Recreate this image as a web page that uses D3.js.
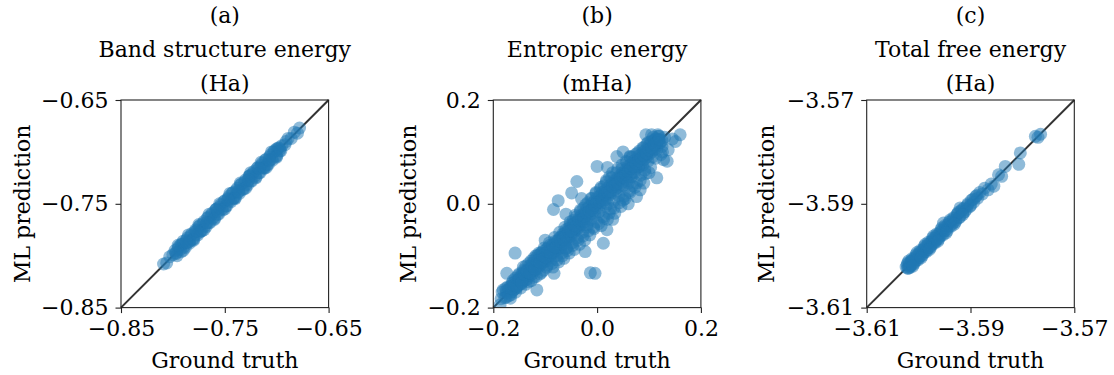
<!DOCTYPE html>
<html>
<head>
<meta charset="utf-8">
<script src="https://cdn.jsdelivr.net/npm/d3@7"></script>
<style>
  html, body { margin: 0; padding: 0; background: #fff; }
  svg { display: block; }
  text { font-family: "DejaVu Serif", serif; fill: #000; }
</style>
</head>
<body>
<svg id="chart" width="1114" height="375"></svg>
<script>
// ---- Panel (a): band structure energy (Ha) ----
const bandTruth = [
  -0.809,-0.806,-0.803,-0.800,-0.797,-0.795,-0.793,-0.791,-0.789,-0.787,
  -0.785,-0.783,-0.781,-0.779,-0.777,-0.775,-0.773,-0.771,-0.769,-0.767,
  -0.765,-0.763,-0.761,-0.759,-0.757,-0.755,-0.753,-0.751,-0.749,-0.747,
  -0.745,-0.743,-0.741,-0.739,-0.737,-0.735,-0.733,-0.731,-0.729,-0.727,
  -0.725,-0.723,-0.721,-0.719,-0.717,-0.715,-0.713,-0.711,-0.709,-0.707,
  -0.705,-0.703,-0.701,-0.699,-0.697,-0.695,-0.692,-0.689,-0.686,-0.683,
  -0.680,-0.678,-0.792,-0.774,-0.758,-0.742,-0.726,-0.712,-0.700,-0.784,
  -0.798,-0.796,-0.794,-0.792,-0.790,-0.788,-0.786,-0.784,-0.782,-0.780,
  -0.778,-0.776,-0.774,-0.772,-0.770,-0.768,-0.766,-0.764,-0.762,-0.760,
  -0.758,-0.756,-0.754,-0.752,-0.750,-0.748,-0.746,-0.744,-0.742,-0.740,
  -0.738,-0.736,-0.734,-0.732,-0.730,-0.728,-0.726,-0.724,-0.722,-0.720,
  -0.718,-0.716,-0.714,-0.712,-0.710,-0.708,-0.706,-0.704,-0.702,-0.700,
  -0.698,-0.696,
  -0.795,-0.790,-0.785,-0.780,-0.775,-0.770,-0.765,-0.760,-0.755,-0.750,
  -0.745,-0.740,-0.735,-0.730,-0.725,-0.720,-0.715,-0.710,-0.705,-0.700,
  -0.797,-0.787,-0.777,-0.767,-0.757,-0.747,-0.737,-0.727,-0.717,-0.707,
  -0.697,-0.691
];
const bandPred = [
  -0.808,-0.807,-0.801,-0.799,-0.798,-0.793,-0.794,-0.789,-0.791,-0.785,
  -0.787,-0.781,-0.784,-0.777,-0.779,-0.772,-0.776,-0.769,-0.771,-0.764,
  -0.768,-0.761,-0.763,-0.756,-0.760,-0.753,-0.755,-0.748,-0.752,-0.745,
  -0.747,-0.740,-0.744,-0.737,-0.739,-0.732,-0.736,-0.729,-0.731,-0.724,
  -0.728,-0.721,-0.723,-0.716,-0.720,-0.713,-0.715,-0.708,-0.712,-0.705,
  -0.707,-0.700,-0.704,-0.697,-0.699,-0.694,-0.693,-0.687,-0.687,-0.681,
  -0.682,-0.677,-0.789,-0.777,-0.755,-0.745,-0.723,-0.715,-0.697,-0.786,
  -0.795,-0.800,-0.791,-0.796,-0.786,-0.792,-0.783,-0.788,-0.779,-0.784,
  -0.775,-0.780,-0.771,-0.776,-0.767,-0.772,-0.763,-0.768,-0.759,-0.764,
  -0.755,-0.760,-0.751,-0.756,-0.747,-0.752,-0.743,-0.748,-0.739,-0.744,
  -0.735,-0.740,-0.731,-0.736,-0.727,-0.732,-0.723,-0.728,-0.719,-0.724,
  -0.715,-0.720,-0.711,-0.716,-0.707,-0.712,-0.703,-0.708,-0.699,-0.704,
  -0.696,-0.699,
  -0.790,-0.795,-0.780,-0.785,-0.770,-0.775,-0.760,-0.765,-0.750,-0.755,
  -0.740,-0.745,-0.730,-0.735,-0.720,-0.725,-0.710,-0.715,-0.700,-0.705,
  -0.797,-0.787,-0.776,-0.768,-0.757,-0.746,-0.738,-0.727,-0.716,-0.708,
  -0.697,-0.690
];

// ---- Panel (b): entropic energy (mHa) ----
const entropicTruth = [
  -0.185,-0.183,-0.178,-0.176,-0.174,-0.168,-0.166,-0.163,-0.161,-0.157,
  -0.155,-0.152,-0.150,-0.147,-0.145,-0.142,-0.140,-0.137,-0.135,-0.132,
  -0.130,-0.127,-0.125,-0.122,-0.120,-0.118,-0.115,-0.113,-0.110,-0.108,
  -0.106,-0.103,-0.100,-0.098,-0.096,-0.094,-0.091,-0.089,-0.087,-0.085,
  -0.083,-0.080,-0.078,-0.076,-0.074,-0.072,-0.070,-0.068,-0.066,-0.064,
  -0.062,-0.060,-0.058,-0.056,-0.054,-0.052,-0.050,-0.048,-0.046,-0.044,
  -0.042,-0.040,-0.038,-0.036,-0.034,-0.032,-0.030,-0.028,-0.026,-0.024,
  -0.022,-0.020,-0.018,-0.016,-0.014,-0.012,-0.010,-0.008,-0.006,-0.004,
  -0.002, 0.000, 0.002, 0.004, 0.006, 0.008, 0.010, 0.012, 0.014, 0.016,
   0.018, 0.020, 0.022, 0.024, 0.026, 0.028, 0.030, 0.032, 0.034, 0.036,
   0.038, 0.040, 0.042, 0.044, 0.046, 0.048, 0.050, 0.052, 0.054, 0.056,
   0.058, 0.060, 0.062, 0.064, 0.066, 0.068, 0.070, 0.072, 0.074, 0.076,
   0.078, 0.080, 0.082, 0.084, 0.086, 0.088, 0.090, 0.092, 0.094, 0.096,
   0.098, 0.100, 0.103, 0.106, 0.109, 0.112, 0.115, 0.118, 0.122, 0.126,
   0.130, 0.094, 0.105, 0.117,
  // scattered points away from the main band
   0.160, 0.151, 0.137, 0.135, 0.115, 0.083, 0.000,-0.039,-0.049,-0.075,
  -0.084, 0.012, 0.019,-0.004,-0.023,-0.158,-0.174,-0.116,-0.152,-0.187,
  -0.181,-0.083,-0.013, 0.050, 0.076, 0.038, 0.063, 0.128, 0.145,
  // core of the band
  -0.175,-0.175,-0.170,-0.170,-0.165,-0.165,-0.160,-0.160,-0.155,-0.155,
  -0.150,-0.150,-0.145,-0.145,-0.140,-0.140,-0.135,-0.135,-0.130,-0.130,
  -0.125,-0.125,-0.120,-0.120,-0.115,-0.115,-0.110,-0.110,-0.105,-0.105,
  -0.100,-0.100,-0.095,-0.095,-0.090,-0.090,-0.085,-0.085,-0.080,-0.080,
  -0.075,-0.075,-0.070,-0.070,-0.065,-0.065,-0.060,-0.060,-0.055,-0.055,
  -0.050,-0.050,-0.045,-0.045,-0.040,-0.040,-0.035,-0.035,-0.030,-0.030,
  -0.025,-0.025,-0.020,-0.020,-0.015,-0.015,-0.010,-0.010,-0.005,-0.005,
   0.000, 0.000, 0.005, 0.005, 0.010, 0.010, 0.015, 0.015, 0.020, 0.020,
   0.025, 0.025, 0.030, 0.030, 0.035, 0.035, 0.040, 0.040, 0.045, 0.045,
   0.050, 0.050, 0.055, 0.055, 0.060, 0.060, 0.065, 0.065, 0.070, 0.070,
   0.075, 0.075, 0.080, 0.080, 0.085, 0.085, 0.090, 0.090, 0.095, 0.095,
   0.100, 0.100, 0.105, 0.105, 0.110, 0.110, 0.115, 0.115, 0.120, 0.120,
   0.125, 0.125,
  // outer layer of the band
  -0.172,-0.167,-0.162,-0.157,-0.152,-0.147,-0.142,-0.137,-0.132,-0.127,
  -0.122,-0.117,-0.112,-0.107,-0.102,-0.097,-0.092,-0.087,-0.082,-0.077,
  -0.072,-0.067,-0.062,-0.057,-0.052,-0.047,-0.042,-0.037,-0.032,-0.027,
  -0.022,-0.017,-0.012,-0.007,-0.002, 0.003, 0.008, 0.013, 0.018, 0.023,
   0.028, 0.033, 0.038, 0.043, 0.048, 0.053, 0.058, 0.063, 0.068, 0.073,
   0.078, 0.083, 0.088, 0.093, 0.098, 0.103, 0.108, 0.113, 0.118, 0.123,
  -0.165,-0.145,-0.125,-0.105,-0.085,-0.065,-0.045,-0.025,-0.005, 0.015,
   0.035, 0.055, 0.075, 0.095, 0.110,
  -0.100,-0.060, 0.030, 0.060, 0.090, 0.100,-0.030, 0.020, 0.050,
  // near the identity line
  -0.160,-0.155,-0.150,-0.145,-0.140,-0.135,-0.130,-0.125,-0.120,-0.115,
  -0.110,-0.105,-0.100,-0.095,-0.090,-0.085,-0.080,-0.075,-0.070,-0.065,
  -0.060,-0.055,-0.050,-0.045,-0.040,-0.035,-0.030,-0.025,-0.020,-0.015,
  -0.010,-0.005, 0.000, 0.005, 0.010, 0.015, 0.020, 0.025, 0.030, 0.035,
   0.040, 0.045, 0.050, 0.055, 0.060, 0.065, 0.070, 0.075, 0.080, 0.085,
   0.090, 0.095, 0.100, 0.105, 0.110, 0.115, 0.120,-0.020, 0.020,-0.060,
   0.060
];
const entropicPred = [
  -0.183,-0.170,-0.181,-0.163,-0.172,-0.160,-0.175,-0.152,-0.166,-0.143,
  -0.160,-0.150,-0.135,-0.155,-0.140,-0.128,-0.148,-0.120,-0.138,-0.150,
  -0.127,-0.110,-0.130,-0.142,-0.118,-0.100,-0.125,-0.108,-0.135,-0.095,
  -0.115,-0.128,-0.105,-0.088,-0.118,-0.100,-0.080,-0.110,-0.095,-0.122,
  -0.085,-0.072,-0.100,-0.088,-0.112,-0.065,-0.080,-0.095,-0.058,-0.105,
  -0.072,-0.050,-0.085,-0.065,-0.095,-0.040,-0.058,-0.075,-0.032,-0.088,
  -0.050,-0.025,-0.065,-0.042,-0.078,-0.015,-0.035,-0.055,-0.008,-0.070,
  -0.025,-0.045, 0.002,-0.015,-0.060,-0.030, 0.010,-0.008,-0.048,-0.022,
   0.020,-0.035, 0.002,-0.015, 0.028,-0.042, 0.012,-0.025, 0.035,-0.005,
   0.045,-0.030, 0.020, 0.052,-0.010, 0.032, 0.060, 0.005,-0.018, 0.042,
   0.025, 0.068, 0.015, 0.050,-0.005, 0.075, 0.035, 0.058, 0.010, 0.082,
   0.045, 0.068, 0.025, 0.090, 0.052, 0.035, 0.078, 0.060, 0.095, 0.040,
   0.085, 0.070, 0.102, 0.055, 0.088, 0.075, 0.108, 0.065, 0.095, 0.115,
   0.082, 0.100, 0.120, 0.090, 0.112, 0.125, 0.105, 0.130, 0.118, 0.100,
   0.128, 0.133, 0.133, 0.133,
   0.133, 0.120, 0.104, 0.082, 0.050, 0.027, 0.072, 0.043, 0.021, 0.006,
  -0.011,-0.076,-0.050,-0.134,-0.092,-0.095,-0.134,-0.166,-0.147,-0.195,
  -0.166,-0.134,-0.133, 0.007, 0.014, 0.091, 0.091, 0.085, 0.125,
  -0.180,-0.168,-0.165,-0.177,-0.170,-0.158,-0.152,-0.165,-0.148,-0.162,
  -0.155,-0.142,-0.135,-0.150,-0.143,-0.130,-0.128,-0.145,-0.138,-0.120,
  -0.115,-0.135,-0.128,-0.108,-0.100,-0.120,-0.118,-0.098,-0.092,-0.112,
  -0.110,-0.095,-0.085,-0.105,-0.100,-0.088,-0.078,-0.095,-0.090,-0.082,
  -0.070,-0.085,-0.085,-0.065,-0.060,-0.078,-0.070,-0.055,-0.048,-0.068,
  -0.062,-0.042,-0.038,-0.055,-0.050,-0.035,-0.028,-0.045,-0.040,-0.022,
  -0.018,-0.035,-0.028,-0.010,-0.005,-0.022,-0.018, 0.000, 0.005,-0.012,
  -0.008, 0.012, 0.015,-0.002, 0.002, 0.022, 0.025, 0.008, 0.012, 0.030,
   0.035, 0.018, 0.022, 0.040, 0.045, 0.028, 0.032, 0.050, 0.055, 0.038,
   0.042, 0.060, 0.065, 0.048, 0.052, 0.072, 0.075, 0.058, 0.062, 0.082,
   0.085, 0.068, 0.072, 0.092, 0.095, 0.078, 0.085, 0.100, 0.105, 0.090,
   0.095, 0.112, 0.118, 0.100, 0.105, 0.122, 0.125, 0.112, 0.118, 0.130,
   0.122, 0.110,
  -0.160,-0.182,-0.148,-0.170,-0.138,-0.162,-0.122,-0.155,-0.115,-0.148,
  -0.105,-0.140,-0.095,-0.132,-0.085,-0.122,-0.075,-0.115,-0.065,-0.108,
  -0.055,-0.100,-0.045,-0.090,-0.035,-0.080,-0.022,-0.070,-0.012,-0.062,
  -0.002,-0.052, 0.010,-0.045, 0.022,-0.038, 0.032,-0.028, 0.042,-0.018,
   0.050,-0.008, 0.060, 0.002, 0.068, 0.015, 0.080, 0.022, 0.090, 0.032,
   0.098, 0.045, 0.108, 0.058, 0.118, 0.070, 0.128, 0.088, 0.122, 0.095,
  -0.163,-0.146,-0.124,-0.107,-0.086,-0.064,-0.047,-0.024,-0.006, 0.016,
   0.034, 0.056, 0.074, 0.096, 0.112,
  -0.070,-0.020,-0.030, 0.000, 0.040, 0.060, 0.010, 0.070, 0.100,
  -0.157,-0.158,-0.146,-0.152,-0.136,-0.131,-0.133,-0.120,-0.125,-0.110,
  -0.113,-0.100,-0.103,-0.092,-0.094,-0.081,-0.084,-0.072,-0.073,-0.068,
  -0.062,-0.053,-0.052,-0.041,-0.043,-0.032,-0.031,-0.028,-0.018,-0.014,
  -0.012,-0.002, 0.003, 0.004, 0.008, 0.019, 0.022, 0.024, 0.033, 0.038,
   0.040, 0.048, 0.052, 0.058, 0.062, 0.068, 0.072, 0.078, 0.083, 0.088,
   0.093, 0.098, 0.104, 0.108, 0.115, 0.118, 0.124,-0.040, 0.000,-0.085,
   0.040
];

// ---- Panel (c): total free energy (Ha) ----
const totalTruth = [
  -3.6024,-3.6022,-3.6020,-3.6018,-3.6016,-3.6014,-3.6012,-3.6010,-3.6008,-3.6006,
  -3.6004,-3.6002,-3.6000,-3.5998,-3.5996,-3.5994,-3.5992,-3.5990,-3.5988,-3.5986,
  -3.5984,-3.5982,-3.5980,-3.5978,-3.5976,-3.5974,-3.5972,-3.5970,-3.5968,-3.5966,
  -3.5964,-3.5962,-3.5960,-3.5958,-3.5956,-3.5954,-3.5952,-3.5950,-3.5948,-3.5946,
  -3.5943,-3.5940,-3.5937,-3.5934,-3.5931,-3.5928,-3.5925,-3.5922,-3.5920,-3.5918,
  -3.5915,-3.5912,-3.5908,-3.5905,-3.5901,-3.5898,-3.5894,-3.5890,-3.5886,-3.5882,
  -3.5877,-3.5873,-3.5866,-3.5860,-3.5855,-3.5846,-3.5840,-3.5833,-3.5807,-3.5804,
  -3.5775,-3.5765,-3.5770,-3.6021,-3.6017,-3.6013,
  -3.6021,-3.6017,-3.6013,-3.6009,-3.6005,-3.6001,-3.5997,-3.5993,-3.5989,-3.5985,
  -3.5981,-3.5977,-3.5973,-3.5969,-3.5965,-3.5961,-3.5957,-3.5953,-3.5949,-3.5945,
  -3.5941,-3.5937,-3.5933,-3.5929,-3.5925,-3.5921,-3.5916,-3.5911,-3.5906,-3.5900,
  -3.5895,-3.5888,
  -3.6019,-3.6011,-3.6003,-3.5995,-3.5987,-3.5979,-3.5971,-3.5963,-3.5955,-3.5947,
  -3.5939,-3.5931,-3.5923,-3.5915
];
const totalPred = [
  -3.6022,-3.6017,-3.6024,-3.6015,-3.6020,-3.6011,-3.6016,-3.6007,-3.6012,-3.6003,
  -3.6008,-3.5999,-3.6004,-3.5995,-3.6000,-3.5991,-3.5996,-3.5987,-3.5992,-3.5983,
  -3.5988,-3.5979,-3.5984,-3.5975,-3.5980,-3.5971,-3.5976,-3.5967,-3.5972,-3.5963,
  -3.5968,-3.5959,-3.5964,-3.5955,-3.5960,-3.5951,-3.5937,-3.5952,-3.5945,-3.5949,
  -3.5940,-3.5943,-3.5934,-3.5937,-3.5928,-3.5931,-3.5920,-3.5926,-3.5908,-3.5914,
  -3.5918,-3.5908,-3.5911,-3.5900,-3.5905,-3.5893,-3.5897,-3.5886,-3.5889,-3.5878,
  -3.5881,-3.5870,-3.5873,-3.5862,-3.5866,-3.5844,-3.5847,-3.5828,-3.5824,-3.5802,
  -3.5770,-3.5766,-3.5772,-3.6024,-3.6020,-3.6010,
  -3.6014,-3.6023,-3.6006,-3.6016,-3.5998,-3.6008,-3.5990,-3.6000,-3.5982,-3.5992,
  -3.5974,-3.5984,-3.5966,-3.5976,-3.5958,-3.5968,-3.5950,-3.5960,-3.5942,-3.5952,
  -3.5935,-3.5943,-3.5927,-3.5935,-3.5919,-3.5926,-3.5911,-3.5915,-3.5903,-3.5903,
  -3.5891,-3.5884,
  -3.6010,-3.6020,-3.5994,-3.6004,-3.5978,-3.5988,-3.5962,-3.5972,-3.5946,-3.5956,
  -3.5931,-3.5939,-3.5916,-3.5921
];

// ---- Panel labels and axis ticks ----
const panelLetters = ["(a)", "(b)", "(c)"];
const panelTitles = ["Band structure energy", "Entropic energy", "Total free energy"];
const panelUnits = ["(Ha)", "(mHa)", "(Ha)"];
const bandTicks = [-0.85, -0.75, -0.65];
const bandTickLabels = ["\u22120.85", "\u22120.75", "\u22120.65"];
const entropicTicks = [-0.2, 0.0, 0.2];
const entropicTickLabels = ["\u22120.2", "0.0", "0.2"];
const totalTicks = [-3.61, -3.59, -3.57];
const totalTickLabels = ["\u22123.61", "\u22123.59", "\u22123.57"];

const panels = [
  { truth: bandTruth, pred: bandPred, ticks: bandTicks, labels: bandTickLabels,
    left: 121, ylabelX: 30 },
  { truth: entropicTruth, pred: entropicPred, ticks: entropicTicks, labels: entropicTickLabels,
    left: 493.3, ylabelX: 416 },
  { truth: totalTruth, pred: totalPred, ticks: totalTicks, labels: totalTickLabels,
    left: 866.7, ylabelX: 774 }
];

const svg = d3.select("#chart");
const plotTop = 100, plotSize = 207.6;
const fontSize = 22;

panels.forEach((p, i) => {
  const lo = p.ticks[0], hi = p.ticks[p.ticks.length - 1];
  const x = d3.scaleLinear().domain([lo, hi]).range([p.left, p.left + plotSize]);
  const y = d3.scaleLinear().domain([lo, hi]).range([plotTop + plotSize, plotTop]);
  const cx = p.left + plotSize / 2;

  const g = svg.append("g");

  const clipId = "clip" + i;
  g.append("clipPath").attr("id", clipId)
    .append("rect").attr("x", p.left).attr("y", plotTop).attr("width", plotSize).attr("height", plotSize);

  // identity line
  g.append("line")
    .attr("x1", x(lo)).attr("y1", y(lo)).attr("x2", x(hi)).attr("y2", y(hi))
    .attr("stroke", "#333").attr("stroke-width", 2);

  // predictions vs ground truth
  const pts = p.truth.map((t, k) => [t, p.pred[k]]);
  g.append("g").attr("clip-path", `url(#${clipId})`)
    .selectAll("circle").data(pts).join("circle")
    .attr("cx", d => x(d[0])).attr("cy", d => y(d[1])).attr("r", 6.5)
    .attr("fill", "#1f77b4").attr("fill-opacity", 0.5);

  // frame
  g.append("rect").attr("x", p.left).attr("y", plotTop).attr("width", plotSize).attr("height", plotSize)
    .attr("fill", "none").attr("stroke", "#222").attr("stroke-width", 1.1);

  // axes
  const fmt = v => p.labels[p.ticks.indexOf(v)];
  const xAxis = d3.axisBottom(x).tickValues(p.ticks).tickFormat(fmt).tickSize(5.5).tickPadding(7);
  const yAxis = d3.axisLeft(y).tickValues(p.ticks).tickFormat(fmt).tickSize(5.5).tickPadding(7);
  const gx = g.append("g").attr("transform", `translate(0,${plotTop + plotSize})`).call(xAxis);
  const gy = g.append("g").attr("transform", `translate(${p.left},0)`).call(yAxis);
  [gx, gy].forEach(a => {
    a.select(".domain").remove();
    a.selectAll(".tick line").attr("stroke", "#222").attr("stroke-width", 1.1);
    a.selectAll(".tick text").attr("font-family", "DejaVu Serif, serif")
      .attr("font-size", fontSize).attr("fill", "#000");
  });

  // titles
  [panelLetters[i], panelTitles[i], panelUnits[i]].forEach((t, k) => {
    g.append("text").attr("x", cx).attr("y", 23 + 34 * k)
      .attr("text-anchor", "middle").attr("font-size", fontSize).text(t);
  });

  // axis labels
  g.append("text").attr("x", cx).attr("y", 368)
    .attr("text-anchor", "middle").attr("font-size", fontSize).text("Ground truth");
  g.append("text")
    .attr("transform", `translate(${p.ylabelX},${plotTop + plotSize / 2}) rotate(-90)`)
    .attr("text-anchor", "middle").attr("font-size", fontSize).text("ML prediction");
});
</script>
</body>
</html>
